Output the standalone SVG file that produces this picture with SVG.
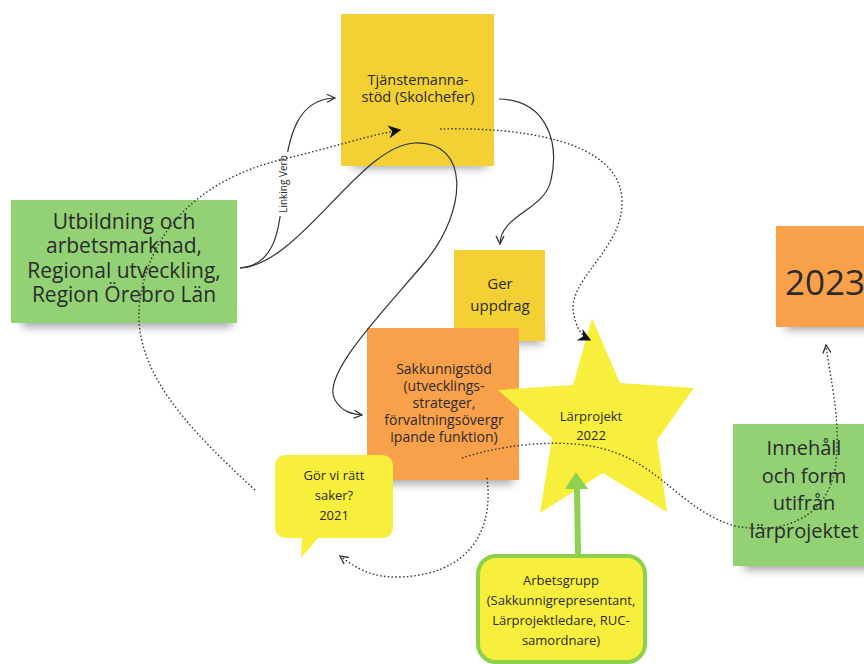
<svg xmlns="http://www.w3.org/2000/svg" width="864" height="664" viewBox="0 0 864 664">
<defs>
<filter id="blur" x="-20%" y="-50%" width="140%" height="200%"><feGaussianBlur stdDeviation="5"/></filter>
<marker id="open" viewBox="0 0 10 10" refX="9" refY="5" markerWidth="10" markerHeight="10" markerUnits="userSpaceOnUse" orient="auto"><path d="M1 1 L9 5 L1 9" fill="none" stroke="#333" stroke-width="1.3"/></marker>
<marker id="filled" viewBox="0 0 10 10" refX="9" refY="5" markerWidth="13" markerHeight="13" markerUnits="userSpaceOnUse" orient="auto"><path d="M0 0 L10 5 L0 10 L3 5 Z" fill="#111"/></marker>
<style>
.t{font-family:"Open Sans","Liberation Sans",sans-serif;fill:#2b2b2b;text-anchor:middle}
.sh{fill:#000;opacity:0.35;filter:url(#blur)}
.solid{fill:none;stroke:#333;stroke-width:1.2}
.dot{fill:none;stroke:#333;stroke-width:1.4;stroke-dasharray:1.5 2.3}
.yel{fill:#f3d033}
.org{fill:#f9a04a}
.grn{fill:#92d275}
</style>
</defs>
<rect width="864" height="664" fill="#fff"/>

<g id="tjanstemanna">
<rect class="sh" x="352" y="148" width="135" height="20"/>
<rect class="yel" x="341" y="14" width="153" height="152"/>
<text class="t" font-size="14.5"><tspan x="418" y="85">Tjänstemanna-</tspan><tspan x="418" y="102">stöd (Skolchefer)</tspan></text>
</g>

<g id="utbildning">
<rect class="sh" x="22" y="305" width="210" height="22"/>
<rect class="grn" x="11" y="200" width="226" height="123"/>
<text class="t" font-size="21"><tspan x="124" y="229">Utbildning och</tspan><tspan x="124" y="253">arbetsmarknad,</tspan><tspan x="124" y="278">Regional utveckling,</tspan><tspan x="124" y="302">Region Örebro Län</tspan></text>
</g>

<g id="ger-uppdrag">
<rect class="sh" x="462" y="324" width="80" height="20"/>
<rect class="yel" x="454" y="250" width="91" height="91"/>
<text class="t" font-size="15"><tspan x="500" y="289">Ger</tspan><tspan x="500" y="311">uppdrag</tspan></text>
</g>

<g id="sakkunnigstod">
<rect class="sh" x="378" y="462" width="135" height="22"/>
<rect class="org" x="367" y="328" width="152" height="152"/>
<text class="t" font-size="14"><tspan x="444" y="374">Sakkunnigstöd</tspan><tspan x="444" y="391">(utvecklings-</tspan><tspan x="444" y="408">strateger,</tspan><tspan x="444" y="425">förvaltningsövergr</tspan><tspan x="444" y="442">ipande funktion)</tspan></text>
</g>

<g id="larprojekt">
<polygon points="592,318 620,383 694,388 657,440 667,512 603,473 540,513 552,438 498,390 573,385" fill="#f8ee3c"/>
<text class="t" font-size="13"><tspan x="591" y="421">Lärprojekt</tspan><tspan x="591" y="440">2022</tspan></text>
</g>

<g id="gor-vi-ratt">
<path d="M287 455 H381 Q393 455 393 467 V526 Q393 538 381 538 H318 L301 558 L302 538 H287 Q275 538 275 526 V467 Q275 455 287 455 Z" fill="#f8ee3c"/>
<text class="t" font-size="13"><tspan x="334" y="480">Gör vi rätt</tspan><tspan x="334" y="500">saker?</tspan><tspan x="334" y="520">2021</tspan></text>
</g>

<g id="arbetsgrupp">
<rect x="478" y="556" width="167" height="106" rx="18" fill="#f8ee3c" stroke="#8cd14c" stroke-width="4"/>
<text class="t" font-size="13"><tspan x="561" y="585">Arbetsgrupp</tspan><tspan x="561" y="605">(Sakkunnigrepresentant,</tspan><tspan x="561" y="625">Lärprojektledare, RUC-</tspan><tspan x="561" y="645">samordnare)</tspan></text>
</g>

<g id="y2023">
<rect class="sh" x="786" y="310" width="90" height="20"/>
<rect class="org" x="776" y="226" width="100" height="101"/>
<text class="t" font-size="35" style="text-anchor:start" x="785" y="295">2023</text>
</g>

<g id="innehall">
<rect class="sh" x="744" y="548" width="130" height="22"/>
<rect class="grn" x="733" y="424" width="140" height="142"/>
<text class="t" font-size="20"><tspan x="804" y="455">Innehåll</tspan><tspan x="804" y="483">och form</tspan><tspan x="804" y="510">utifrån</tspan><tspan x="804" y="538">lärprojektet</tspan></text>
</g>

<g id="connectors">
<path class="solid" d="M240 268 C275 265 280 230 283 190 C287 130 300 99 335 98" marker-end="url(#open)"/>
<rect x="277" y="152" width="12" height="64" fill="#fff"/>
<text class="t" font-size="10" transform="translate(287 184) rotate(-90)">Linking Verb</text>
<path class="solid" d="M240 268 C300 265 360 145 415 143 C470 141 468 210 425 262 C385 310 320 375 335 400 C342 412 352 414 362 415" marker-end="url(#open)"/>
<path class="solid" d="M499 99 C545 100 560 140 551 180 C545 210 500 215 500 244" marker-end="url(#open)"/>
<path class="dot" d="M440 129 C520 127 620 140 622 200 C624 250 565 280 574 315 C577 330 582 336 590 340" marker-end="url(#filled)"/>
<path class="dot" d="M255 490 C190 430 130 370 140 300 C150 230 200 180 280 160 C330 148 370 135 400 130" marker-end="url(#filled)"/>
<path class="dot" d="M487 478 C495 540 460 575 400 577 C370 578 355 567 340 556" marker-end="url(#open)"/>
<path class="dot" d="M462 458 C500 445 560 438 600 448 C660 462 680 510 735 526 C780 535 825 520 835 470 C842 420 830 380 826 345" marker-end="url(#open)"/>
<path d="M578 556 L577 486" stroke="#8dd14e" stroke-width="6" fill="none"/>
<polygon points="576,472 588,489 565,489" fill="#8dd14e"/>
</g>
</svg>
